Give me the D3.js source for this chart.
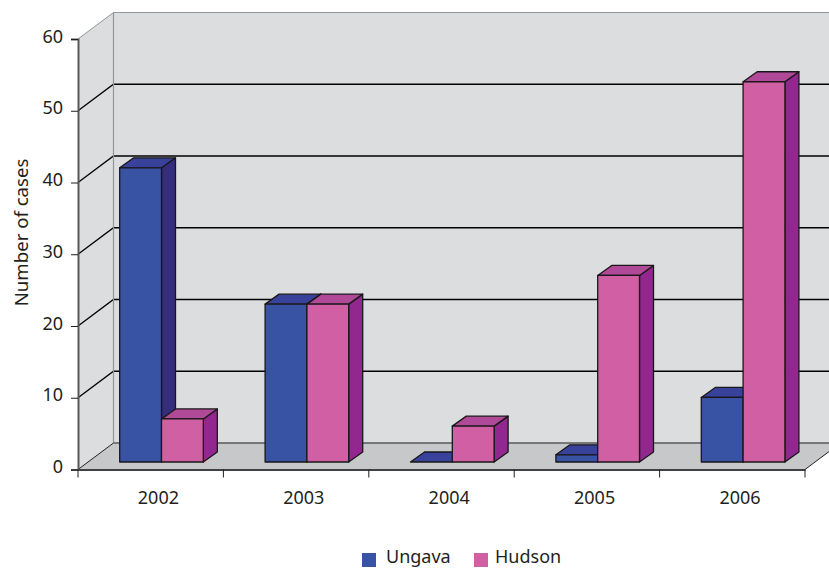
<!DOCTYPE html>
<html>
<head>
<meta charset="utf-8">
<style>
html,body{margin:0;padding:0;background:#fff;overflow:hidden}
text{font-family:"Noto Sans",sans-serif;fill:#231f20}
</style>
<script src="https://cdn.jsdelivr.net/npm/d3@7/dist/d3.min.js"></script>
</head>
<body>
<svg id="chart" width="829" height="568"></svg>
<script>
const years = ["2002", "2003", "2004", "2005", "2006"];
const seriesNames = ["Ungava", "Hudson"];
const ungava = [41, 22, 0, 1, 9];
const hudson = [6, 22, 5, 26, 53];
const yTicks = [0, 10, 20, 30, 40, 50, 60];
const seriesValues = [ungava, hudson];
const palette = [
  {front: "#3953a4", top: "#38429b", side: "#352e7e"},
  {front: "#d060a3", top: "#b04a98", side: "#92278f"}
];

// Frame of the oblique box: front plane plus the shift to the back wall
const frontLeft = 78, frontRight = 805, frontBase = 469.5, frontTop = 39;
const wallDx = 35.5, wallDy = -26.5;
const barDx = 14, barDy = -10;
const barLift = -7.5, barShift = 10.8;

const svg = d3.select("#chart");
const x = d3.scaleBand().domain(years).range([frontLeft, frontRight]);
const y = d3.scaleLinear().domain([0, 60]).range([frontBase, frontTop]);
const barW = x.bandwidth() * 0.2875;
const inner = d3.scaleBand().domain(d3.range(seriesNames.length)).range([0, barW * 2]);
const pts = a => a.map(p => p.join(",")).join(" ");

// Walls and floor
svg.append("polygon")
  .attr("points", pts([[frontLeft, y(0)], [frontLeft, y(60)], [frontLeft + wallDx, y(60) + wallDy], [frontLeft + wallDx, y(0) + wallDy]]))
  .attr("fill", "#dcddde");
svg.append("rect")
  .attr("x", frontLeft + wallDx).attr("y", y(60) + wallDy)
  .attr("width", 829 - frontLeft - wallDx).attr("height", y(0) - y(60))
  .attr("fill", "#dcddde");
svg.append("polygon")
  .attr("points", pts([[frontLeft, y(0)], [frontRight, y(0)], [frontRight + wallDx, y(0) + wallDy], [frontLeft + wallDx, y(0) + wallDy]]))
  .attr("fill", "#c7c8ca");

// Gridlines running along the side wall and across the back wall
svg.append("g").selectAll("path")
  .data(yTicks.filter(d => d > 0 && d < 60)).join("path")
  .attr("d", d => `M${frontLeft},${y(d)}L${frontLeft + wallDx},${y(d) + wallDy}L829,${y(d) + wallDy}`)
  .attr("fill", "none").attr("stroke", "#000").attr("stroke-width", 1.3);

svg.append("path")
  .attr("d", `M${frontLeft},${y(60)}L${frontLeft + wallDx},${y(60) + wallDy}L829,${y(60) + wallDy}`)
  .attr("fill", "none").attr("stroke", "#939598").attr("stroke-width", 1);
svg.append("path")
  .attr("d", `M${frontLeft + wallDx},${y(60) + wallDy}V${y(0) + wallDy}`)
  .attr("fill", "none").attr("stroke", "#939598").attr("stroke-width", 1.2);
svg.append("path")
  .attr("d", `M${frontLeft},${y(0)}L${frontLeft + wallDx},${y(0) + wallDy}`)
  .attr("fill", "none").attr("stroke", "#231f20").attr("stroke-width", 1);
svg.append("path")
  .attr("d", `M${frontLeft + wallDx},${y(0) + wallDy}H829`)
  .attr("fill", "none").attr("stroke", "#58595b").attr("stroke-width", 1.5);
svg.append("path")
  .attr("d", `M${frontRight},${y(0)}L${frontRight + wallDx},${y(0) + wallDy}`)
  .attr("fill", "none").attr("stroke", "#231f20").attr("stroke-width", 1);

// Bars, each drawn as three faces of a box
const records = [];
years.forEach((yr, i) => seriesNames.forEach((_, s) =>
  records.push({year: yr, s, value: seriesValues[s][i]})));

const bars = svg.append("g").selectAll("g").data(records).join("g")
  .attr("stroke", "#1a1718").attr("stroke-width", 1.3).attr("stroke-linejoin", "round");
const barLeft = d => x(d.year) + barShift + (x.bandwidth() - barW * 2) / 2 + inner(d.s);
const barRight = d => barLeft(d) + inner.bandwidth();
const barTop = d => y(d.value) + barLift;
const barBase = y(0) + barLift;

bars.filter(d => d.value > 0).append("polygon")
  .attr("points", d => pts([[barRight(d), barTop(d)], [barRight(d) + barDx, barTop(d) + barDy], [barRight(d) + barDx, barBase + barDy], [barRight(d), barBase]]))
  .attr("fill", d => palette[d.s].side);
bars.append("polygon")
  .attr("points", d => pts([[barLeft(d), barTop(d)], [barLeft(d) + barDx, barTop(d) + barDy], [barRight(d) + barDx, barTop(d) + barDy], [barRight(d), barTop(d)]]))
  .attr("fill", d => palette[d.s].top);
bars.filter(d => d.value > 0).append("rect")
  .attr("x", barLeft).attr("y", barTop)
  .attr("width", inner.bandwidth()).attr("height", d => barBase - barTop(d))
  .attr("fill", d => palette[d.s].front);

// Value axis
const yAxis = svg.append("g").attr("transform", `translate(${frontLeft},0)`)
  .call(d3.axisLeft(y).tickValues(yTicks).tickSize(7).tickPadding(8));
yAxis.select(".domain").attr("stroke", "#58595b").attr("stroke-width", 2);
yAxis.selectAll(".tick line").attr("stroke", "#231f20");
yAxis.selectAll(".tick text").attr("dy", "0.17em").style("font-size", "18px").attr("fill", "#231f20");

// Category axis: labels sit right of each band's centre, ticks on the band edges
const labelShift = 7.7;
const xAxis = svg.append("g").attr("transform", `translate(0,${frontBase})`)
  .call(d3.axisBottom(x).tickSize(0).tickPadding(22));
xAxis.select(".domain").attr("stroke", "#414042").attr("stroke-width", 2);
xAxis.selectAll(".tick text").attr("x", labelShift).style("font-size", "18px").attr("fill", "#231f20");
xAxis.selectAll("line.edge")
  .data(years.map(d => x(d)).concat([frontRight])).join("line")
  .attr("class", "edge")
  .attr("x1", d => d).attr("x2", d => d).attr("y1", 0).attr("y2", 8)
  .attr("stroke", "#231f20").attr("stroke-width", 1);

// Axis title
svg.append("text")
  .attr("transform", "translate(28,232.5) rotate(-90)")
  .attr("text-anchor", "middle")
  .style("font-size", "18.6px")
  .text("Number of cases");

// Legend
const legendX = [362, 474];
const legendTextX = [24, 21];
const legend = svg.append("g").selectAll("g").data(seriesNames).join("g")
  .attr("transform", (d, i) => `translate(${legendX[i]},553)`);
legend.append("rect").attr("width", 14).attr("height", 14)
  .attr("fill", (d, i) => palette[i].front);
legend.append("text").attr("x", (d, i) => legendTextX[i]).attr("y", 9.5)
  .style("font-size", "18px").text(d => d);
</script>
</body>
</html>
